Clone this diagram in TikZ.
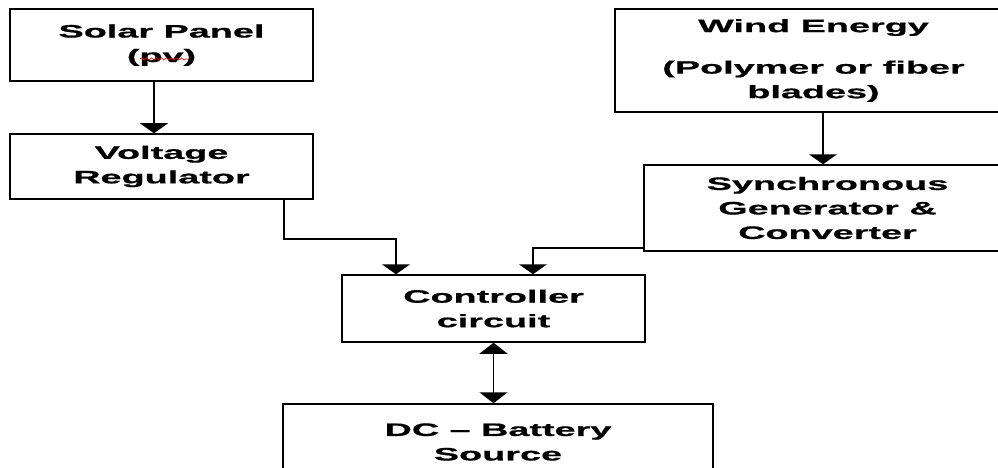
\documentclass[tikz,border=0pt]{standalone}
\usepackage{fontspec}
\newfontfamily\diagfont{Liberation Sans}[FakeStretch=2.1, FakeBold=0.8]
\usetikzlibrary{arrows.meta,decorations.pathmorphing}
\begin{document}
\begin{tikzpicture}
[
    x=1pt, y=-1pt,
    box/.style={draw, line width=1.5pt, align=center, inner sep=0pt,
        font=\diagfont\bfseries\fontsize{18}{24.5}\selectfont},
    arr/.style={line width=1.7pt, -{Triangle[width=28pt,length=10pt]}},
    biarr/.style={line width=1.7pt, {Triangle[width=28pt,length=11pt]}-{Triangle[width=28pt,length=11pt]}}
]
    \useasboundingbox (0,0) rectangle (998,468);
    \clip (0,0) rectangle (998,468);
    \fill[white] (0,0) rectangle (998,468);
    % left branch
    \node (solar) [box, minimum width=303pt, minimum height=72pt] at (161.5,45) {Solar Panel\\(pv)\\[-21pt]};
    \node (volt) [box, minimum width=303pt, minimum height=65pt] at (161.5,166.5) {Voltage\\Regulator};
    % right branch
    \node (wind) [box, minimum width=397pt, minimum height=103pt] at (813.5,60.5) {Wind Energy\\[17pt](Polymer or fiber\\blades)};
    \node (sync) [box, minimum width=367pt, minimum height=86pt] at (827.5,208) {Synchronous\\Generator \&\\Converter};
    % middle
    \node (ctrl) [box, minimum width=303pt, minimum height=67pt] at (493.5,308.5) {Controller\\circuit};
    \node (dc) [box, minimum width=430pt, minimum height=76pt] at (498,442) {DC – Battery\\Source};
    % spell check mark under pv
    \draw[red, line width=0.6pt, decorate, decoration={snake, amplitude=1.2pt, segment length=5pt}] (140,59) -- (188,59);
    % connectors
    \draw[arr] ([xshift=-7.5pt]solar.south) -- ([xshift=-7.5pt]solar.south |- volt.north);
    \draw[arr] ([xshift=-30pt]volt.south east) -- ++(0,39) -| ([xshift=-97.5pt]ctrl.north);
    \draw[arr] ([xshift=9.5pt]wind.south) -- ([xshift=9.5pt]wind.south |- sync.north);
    \draw[arr] ([yshift=4pt]sync.south west) -| ([xshift=39.5pt]ctrl.north);
    \draw[biarr] (ctrl.south) -- (ctrl.south |- dc.north);
\end{tikzpicture}
\end{document}
